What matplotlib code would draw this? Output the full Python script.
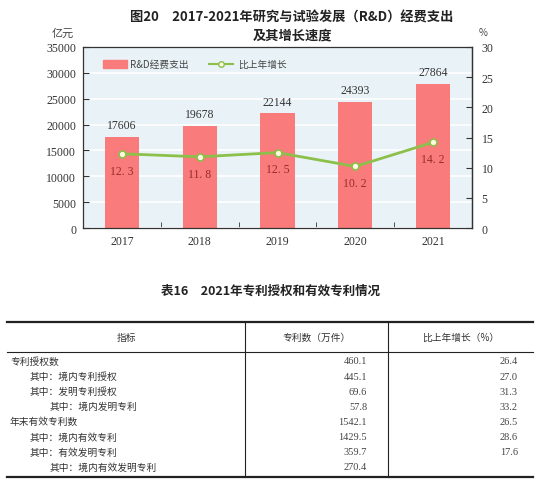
import matplotlib.pyplot as plt
from matplotlib.lines import Line2D
from matplotlib.patches import Rectangle

# --- data ---
years = ['2017', '2018', '2019', '2020', '2021']
rd_spend = [17606, 19678, 22144, 24393, 27864]
growth = [12.3, 11.8, 12.5, 10.2, 14.2]
growth_labels = ['12. 3', '11. 8', '12. 5', '10. 2', '14. 2']

row_names = ['专利授权数', '其中：境内专利授权', '其中：发明专利授权', '其中：境内发明专利',
             '年末有效专利数', '其中：境内有效专利', '其中：有效发明专利', '其中：境内有效发明专利']
row_levels = [0, 1, 1, 2, 0, 1, 1, 2]
patent_counts = ['460.1', '445.1', '69.6', '57.8', '1542.1', '1429.5', '359.7', '270.4']
patent_growth = ['26.4', '27.0', '31.3', '33.2', '26.5', '28.6', '17.6', '']
header = ['指标', '专利数（万件）', '比上年增长（%）']

CJK = ['Noto Sans CJK SC', 'DejaVu Sans']
SERIF = ['Liberation Serif', 'Noto Sans CJK SC']

W, H = 550, 489
fig = plt.figure(figsize=(W / 100, H / 100), dpi=100)
fig.patch.set_facecolor('white')


def fx(x):
    return x / W


def fy(y):
    return 1 - y / H


# --- chart ---
ax = fig.add_axes([fx(83), fy(229), fx(472) - fx(83), fy(48) - fy(229)])
ax.set_facecolor('#e9f3f7')
xs = range(len(years))
ax.bar(xs, rd_spend, width=0.44, color='#f97b7b', zorder=2)
ax.set_ylim(0, 35000)
ax.set_xlim(-0.5, 4.5)
ax.set_yticks(range(0, 35001, 5000))
ax.yaxis.grid(True, color='white', linewidth=1.2, zorder=1)
ax.set_axisbelow(True)
ax.set_xticks(list(xs))
ax.set_xticklabels(years, fontfamily=SERIF, fontsize=8.5, color='#333')
ax.tick_params(axis='x', length=0, pad=5)
ax.set_xticks([i + 0.5 for i in range(4)], minor=True)
ax.tick_params(axis='x', which='minor', direction='in', length=4, color='#333')
ax.tick_params(axis='y', direction='in', length=4, labelsize=8.5, color='#333',
               labelcolor='#333', pad=5)
for lbl in ax.get_yticklabels():
    lbl.set_fontfamily(SERIF)
for s in ['left', 'bottom', 'right', 'top']:
    ax.spines[s].set_color('#333')
    ax.spines[s].set_linewidth(0.9)
for x, v in zip(xs, rd_spend):
    ax.text(x, v + 2300, str(v), ha='center', va='center', fontsize=8.5,
            fontfamily=SERIF, color='#333')

ax2 = ax.twinx()
ax2.set_ylim(0, 30)
ax2.set_yticks(range(0, 31, 5))
ax2.plot(list(xs), growth, color='#8cc04b', linewidth=2, marker='o', markersize=5,
         markerfacecolor='#fffbe3', markeredgecolor='#8cc04b', markeredgewidth=1.2, zorder=3)
ax2.tick_params(axis='y', direction='in', length=4, labelsize=8.5, color='#333',
                labelcolor='#333', pad=7)
for lbl in ax2.get_yticklabels():
    lbl.set_fontfamily(SERIF)
for s in ['top', 'left', 'bottom']:
    ax2.spines[s].set_visible(False)
ax2.spines['right'].set_color('#333')
ax2.spines['right'].set_linewidth(0.9)
for x, g, t in zip(xs, growth, growth_labels):
    ax2.text(x, g - 2.8, t, ha='center', va='center', fontsize=8.5,
             fontfamily=SERIF, color='#9a2b2b')

# legend
fig.patches.append(Rectangle((fx(103), fy(69)), fx(24), fy(61) - fy(69),
                             transform=fig.transFigure, color='#f97b7b'))
fig.text(fx(130), fy(65), 'R&D经费支出', fontsize=7, fontfamily=CJK, va='center', color='#444')
fig.lines.append(Line2D([fx(209), fx(233)], [fy(65), fy(65)], transform=fig.transFigure,
                        color='#8cc04b', linewidth=1.5))
fig.lines.append(Line2D([fx(221)], [fy(65)], transform=fig.transFigure, marker='o',
                        markersize=4, markerfacecolor='#fffbe3', markeredgecolor='#8cc04b'))
fig.text(fx(238), fy(65), '比上年增长', fontsize=7, fontfamily=CJK, va='center', color='#444')

# titles and units
fig.text(fx(292), fy(18), '图20　2017-2021年研究与试验发展（R&D）经费支出', ha='center', va='center',
         fontsize=9.5, fontweight='bold', fontfamily=CJK, color='#222')
fig.text(fx(292), fy(35), '及其增长速度', ha='center', va='center',
         fontsize=9.5, fontweight='bold', fontfamily=CJK, color='#222')
fig.text(fx(63), fy(34), '亿元', ha='center', va='center', fontsize=8, fontfamily=CJK, color='#444')
fig.text(fx(483), fy(33), '%', ha='center', va='center', fontsize=7, fontfamily=CJK, color='#444')

# --- table ---
fig.text(fx(271), fy(291), '表16　2021年专利授权和有效专利情况', ha='center', va='center',
         fontsize=9, fontweight='bold', fontfamily=CJK, color='#222')

tl, tr = 7, 533
col1, col2 = 245, 388
top, head_bot, bottom = 323, 353, 478


def hline(y, lw):
    fig.lines.append(Line2D([fx(tl), fx(tr)], [fy(y), fy(y)], transform=fig.transFigure,
                            color='#222', linewidth=lw))


def vline(x):
    fig.lines.append(Line2D([fx(x), fx(x)], [fy(top), fy(bottom)], transform=fig.transFigure,
                            color='#222', linewidth=0.8))


hline(top, 1.6)
hline(head_bot, 0.8)
hline(bottom, 1.6)
vline(col1)
vline(col2)

fig.text(fx((tl + col1) / 2), fy(338), header[0], ha='center', va='center', fontsize=7,
         fontfamily=CJK, color='#333')
fig.text(fx((col1 + col2) / 2), fy(338), header[1], ha='center', va='center', fontsize=7,
         fontfamily=CJK, color='#333')
fig.text(fx((col2 + tr) / 2), fy(338), header[2], ha='center', va='center', fontsize=7,
         fontfamily=CJK, color='#333')

indent = [10, 30, 50]
for i, (name, lvl, cnt, gr) in enumerate(zip(row_names, row_levels, patent_counts, patent_growth)):
    y = 362 + i * 15.1
    fig.text(fx(indent[lvl]), fy(y), name, ha='left', va='center', fontsize=7,
             fontfamily=CJK, color='#333')
    fig.text(fx(367), fy(y), cnt, ha='right', va='center', fontsize=7.5,
             fontfamily=SERIF, color='#444')
    if gr:
        fig.text(fx(518), fy(y), gr, ha='right', va='center', fontsize=7.5,
                 fontfamily=SERIF, color='#444')

fig.savefig('out.png', dpi=100)
